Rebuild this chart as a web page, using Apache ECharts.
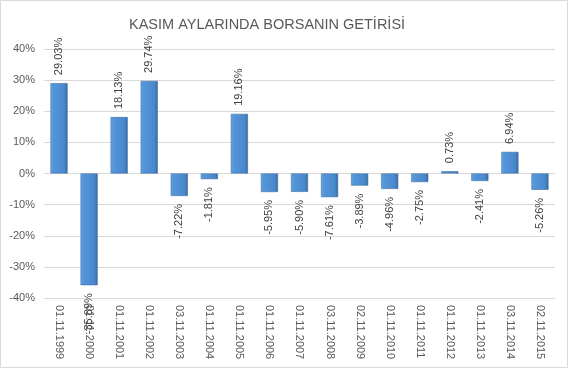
<!DOCTYPE html>
<html><head><meta charset="utf-8">
<script src="https://cdn.jsdelivr.net/npm/echarts@6/dist/echarts.min.js"></script>
<style>html,body{margin:0;padding:0;background:#fff}#c{width:569px;height:369px}</style>
</head><body><div id="c"></div>
<script>
const titleText = 'KASIM AYLARINDA BORSANIN GETİRİSİ';
const categories = ['01.11.1999','01.11.2000','01.11.2001','01.11.2002','03.11.2003','01.11.2004','01.11.2005','01.11.2006','01.11.2007','03.11.2008','02.11.2009','01.11.2010','01.11.2011','01.11.2012','01.11.2013','03.11.2014','02.11.2015'];
const returns = [29.03, -35.89, 18.13, 29.74, -7.22, -1.81, 19.16, -5.95, -5.90, -7.61, -3.89, -4.96, -2.75, 0.73, -2.41, 6.94, -5.26];
const yMin = -40, yMax = 40, yStep = 10;

const chart = echarts.init(document.getElementById('c'), null, {renderer:'canvas'});
const barColor = {type:'linear', x:0, y:0, x2:1, y2:0, colorStops:[
  {offset:0, color:'#6aa8e6'},{offset:0.15, color:'#5496da'},{offset:0.8, color:'#4a88cc'},{offset:1, color:'#36699f'}]};
const data = returns.map(v => ({
  value: v,
  label: v >= 0
    ? {position:'top', align:'left', verticalAlign:'middle'}
    : {position:'bottom', align:'right', verticalAlign:'middle'}
}));
chart.setOption({
  animation:false,
  title:{text:titleText, left:124, top:12, textStyle:{fontFamily:'Liberation Sans', fontSize:14.5, fontWeight:'normal', color:'#595959'}},
  graphic:[{type:'rect', shape:{x:0.5,y:0.5,width:567,height:367}, style:{fill:'none', stroke:'#d9d9d9', lineWidth:1}, silent:true}],
  grid:{left:44, right:14, top:49, bottom:71},
  xAxis:{type:'category', data:categories, position:'bottom',
    axisLine:{show:false, onZero:false}, axisTick:{show:false},
    axisLabel:{rotate:-90, interval:0, margin:7, fontFamily:'Liberation Sans', fontSize:11, color:'#595959'}},
  yAxis:{type:'value', min:yMin, max:yMax, interval:yStep,
    axisLine:{show:false}, axisTick:{show:false},
    splitLine:{lineStyle:{color:'#d9d9d9', width:1}},
    axisLabel:{formatter: v => v + '%', margin:9, fontFamily:'Liberation Sans', fontSize:11, color:'#595959'}},
  series:[{type:'bar', data:data, barWidth:'57%',
    itemStyle:{color:barColor, borderColor:'#3f70a4', borderWidth:0.6},
    label:{show:true, rotate:90, distance:8, formatter: p => p.value.toFixed(2) + '%',
      fontFamily:'Liberation Sans', fontSize:11, color:'#404040'}}]
});
</script></body></html>
